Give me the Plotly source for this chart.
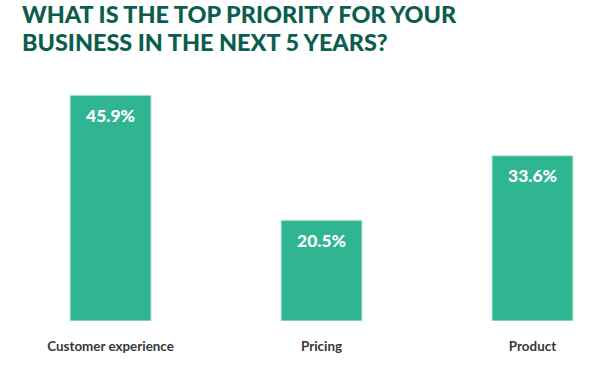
import plotly.graph_objects as go

categories = ["Customer experience", "Pricing", "Product"]
values = [45.9, 20.5, 33.6]
value_labels = ["45.9%", "20.5%", "33.6%"]
title_lines = ["WHAT IS THE TOP PRIORITY FOR YOUR", "BUSINESS IN THE NEXT 5 YEARS?"]

BAR = "#2fb592"
TITLE = "#0b5e4e"

fig = go.Figure()
fig.add_trace(go.Bar(
    x=list(range(len(categories))), y=values,
    width=0.384,
    marker=dict(color=BAR, line=dict(color="#c4ece0", width=1)),
    hoverinfo="skip",
))
for i, (v, t) in enumerate(zip(values, value_labels)):
    fig.add_annotation(x=i, y=v, text=t, showarrow=False, yshift=-20,
                       font=dict(family="Lato", size=17.5, color="white", weight=900))

# title lines, positioned in paper coords (plot area: 246px tall, bottom at y=321px)
for k, (line, py) in enumerate(zip(title_lines, [14, 42])):
    fig.add_annotation(text=line, xref="paper", yref="paper",
                       x=20 / 600, y=(321 - py) / 246, xanchor="left", yanchor="middle",
                       showarrow=False,
                       font=dict(family="Lato", size=23.4, color=TITLE, weight=900))

fig.update_layout(
    width=600, height=368,
    margin=dict(l=0, r=0, t=75, b=47),
    paper_bgcolor="white", plot_bgcolor="white",
    showlegend=False,
    xaxis=dict(range=[-0.524, 2.32], tickmode="array", tickvals=list(range(len(categories))),
               ticktext=categories, showgrid=False, zeroline=False, showline=False,
               ticks="", ticklabelstandoff=16, automargin=False,
               tickfont=dict(family="Lato", size=13.4, color="#383838", weight=700)),
    yaxis=dict(range=[0, 50], visible=False, showgrid=False, zeroline=False, automargin=False),
)
fig.write_html("out.html", config={"displayModeBar": False},
               post_script="document.body.style.margin='0';")
